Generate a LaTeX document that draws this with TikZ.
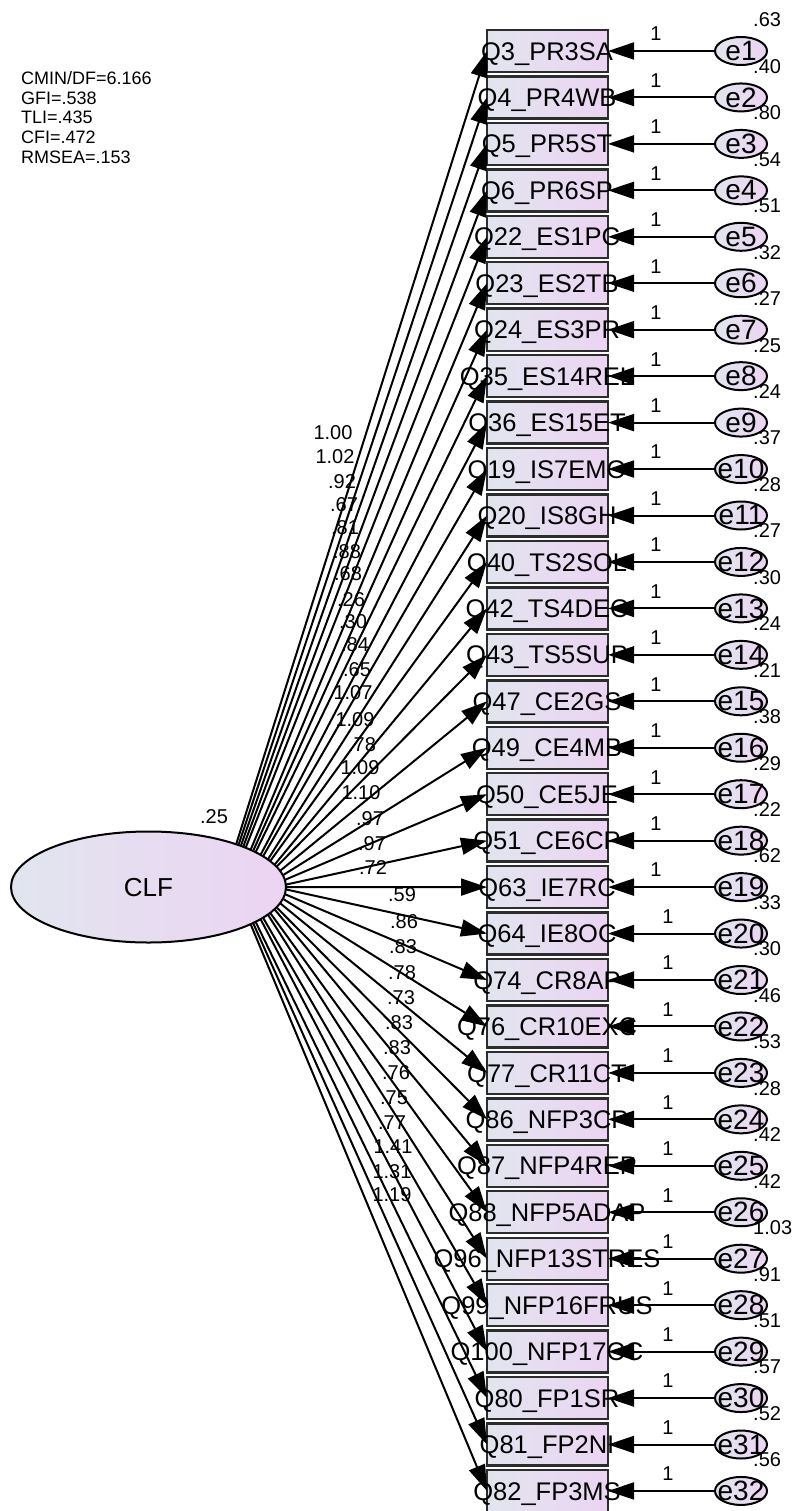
\documentclass[tikz,border=0pt]{standalone}
\usepackage{fontspec}
\setmainfont{Liberation Sans}
\usetikzlibrary{arrows.meta,shapes.geometric}

\definecolor{shadeL}{RGB}{225,229,239}
\definecolor{shadeR}{RGB}{236,212,242}
\definecolor{rimgray}{RGB}{45,45,45}

% one Newton-like step: border point of the CLF ellipse whose normal faces the item
\newcommand\clfrefine{%
  \pgfmathsetmacro\bpx{148+137*cos(\bth)}%
  \pgfmathsetmacro\bpy{887+55*sin(\bth)}%
  \pgfmathsetmacro\bth{atan2(0.55*(\ty-\bpy),1.37*(487-\bpx))}%
}

\begin{document}
\begin{tikzpicture}[x=1pt,y=-1pt,
  indicator/.style={draw=rimgray,line width=2.4pt,left color=shadeL,right color=shadeR,
    minimum width=121pt,minimum height=42pt,inner sep=0pt,outer sep=0pt},
  residual/.style={ellipse,draw=black,line width=2pt,left color=shadeL,right color=shadeR,
    minimum width=52pt,minimum height=28pt,inner sep=0pt,outer sep=0pt},
  latent/.style={ellipse,draw=black,line width=2pt,left color=shadeL,right color=shadeR,
    minimum width=275pt,minimum height=111pt,inner sep=0pt,outer sep=0pt},
  itemtext/.style={font=\fontsize{25.5}{28}\selectfont,inner sep=0pt},
  errtext/.style={font=\fontsize{28}{30}\selectfont,inner sep=0pt},
  coef/.style={font=\fontsize{20}{22}\selectfont,inner sep=0pt},
  fitline/.style={font=\fontsize{18}{20}\selectfont,inner sep=0pt,anchor=base west},
  regpath/.style={line width=2pt,-{Triangle[length=26pt,width=17pt]}},
]
\useasboundingbox (0,0) rectangle (795,1511);

% model fit summary
\node[fitline] (fit1) at (21,84.5) {CMIN/DF=6.166};
\node[fitline] (fit2) at (21,104.2) {GFI=.538};
\node[fitline] (fit3) at (21,123.9) {TLI=.435};
\node[fitline] (fit4) at (21,143.6) {CFI=.472};
\node[fitline] (fit5) at (21,163.3) {RMSEA=.153};

% common latent factor
\node[latent] (clf) at (148.5,887) {};
\node[font=\fontsize{26}{28}\selectfont,inner sep=0pt] (clftext) at (148.5,887.5) {CLF};
\node[coef] (clfvar) at (214,817) {.25};

% observed items and their residuals
\foreach \txt [count=\k from 0] in {Q3\_PR3SA,Q4\_PR4WB,Q5\_PR5ST,Q6\_PR6SP,Q22\_ES1PC,Q23\_ES2TB,
  Q24\_ES3PR,Q35\_ES14REL,Q36\_ES15ET,Q19\_IS7EMO,Q20\_IS8GH,Q40\_TS2SOL,Q42\_TS4DEC,Q43\_TS5SUP,
  Q47\_CE2GS,Q49\_CE4MB,Q50\_CE5JE,Q51\_CE6CP,Q63\_IE7RC,Q64\_IE8OC,Q74\_CR8AP,Q76\_CR10EXC,
  Q77\_CR11CT,Q86\_NFP3CP,Q87\_NFP4REP,Q88\_NFP5ADAP,Q96\_NFP13STRES,Q99\_NFP16FRUS,
  Q100\_NFP17CC,Q80\_FP1SR,Q81\_FP2NI,Q82\_FP3MS}{
  \pgfmathsetmacro\yy{51+46.45*\k}
  \pgfmathtruncatemacro\num{\k+1}
  \node[indicator] (q\k) at (547.5,\yy) {};
  \node[itemtext,anchor=base] (qt\k) at (547,\yy+9.1) {\txt};
  \node[residual] (e\k) at (741,\yy) {};
  \node[errtext] (et\k) at (e\k) {e\num};
}

% regression paths
\foreach \k in {0,...,31}{
  \pgfmathsetmacro\ty{51+46.45*\k}
  \pgfmathsetmacro\bth{atan2(0.55*(\ty-887),1.37*(487-148))}
  \clfrefine\clfrefine\clfrefine\clfrefine\clfrefine\clfrefine
  \pgfmathsetmacro\ang{-atan2(55*sin(\bth),137*cos(\bth))}
  \draw[regpath] (clf.\ang) -- (q\k.west);
  \draw[regpath] (e\k) -- (q\k.east);
}

% factor loadings
\foreach \v/\lx/\ly [count=\k from 0] in {1.00/333/433,1.02/335/457,.92/342/482,.67/344/505,
  .81/345/528,.88/347/552,.68/348/574,.26/351/600,.30/353/622,.84/355/645,.65/357/670,
  1.07/353/693,1.09/355/720,.78/362/745,1.09/360/768,1.10/361/793,.97/370/819,.97/372/844,
  .72/373/868,.59/402/895,.86/404/922,.83/403/947,.78/402/973,.73/401/998,.83/399/1023,
  .83/397/1048,.76/396/1073,.75/394/1098,.77/392/1123,1.41/393/1147,1.31/392/1172,1.19/392/1195}
  \node[coef] (ld\k) at (\lx,\ly) {\v};

% fixed residual weights
\foreach \k in {0,...,31}{
  \pgfmathsetmacro\yy{51+46.45*\k-17}
  \pgfmathsetmacro\xx{\k<19 ? 656 : 668}
  \node[coef] (one\k) at (\xx,\yy) {1};
}

% residual variances
\foreach \v [count=\k from 0] in {.63,.40,.80,.54,.51,.32,.27,.25,.24,.37,.28,.27,.30,.24,.21,.38,
  .29,.22,.62,.33,.30,.46,.53,.28,.42,.42,1.03,.91,.51,.57,.52,.56}{
  \pgfmathsetmacro\yy{51+46.45*\k-31}
  \node[coef,anchor=west] (var\k) at (753,\yy) {\v};
}
\end{tikzpicture}
\end{document}
